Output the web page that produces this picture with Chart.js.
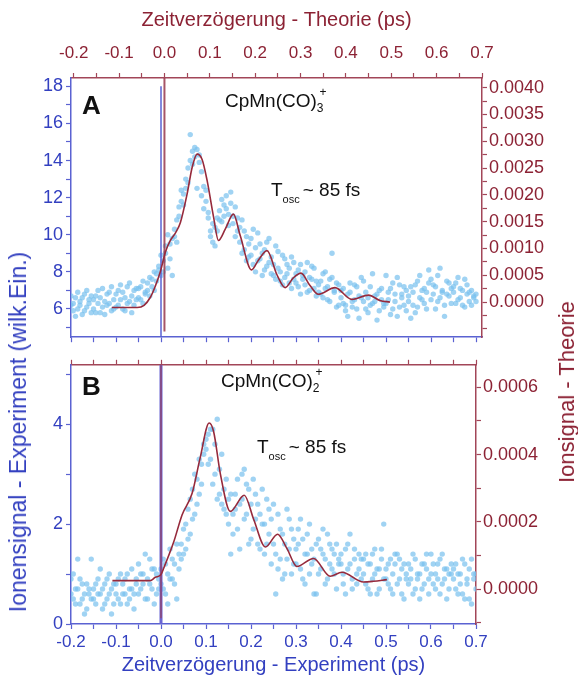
<!DOCTYPE html>
<html>
<head>
<meta charset="utf-8">
<script src="https://cdn.jsdelivr.net/npm/chart.js"></script>
<style>
  html, body { margin: 0; padding: 0; background: #fff; }
  #wrap { position: relative; width: 578px; height: 681px; overflow: hidden; font-family: "Liberation Sans", Arial, sans-serif; }
  canvas { position: absolute; left: 0; }
  .note { position: absolute; white-space: nowrap; font-size: 19px; line-height: 19px; color: #111; }
  .panel { position: absolute; font-size: 26px; line-height: 26px; font-weight: bold; color: #111; }
  .note sub { font-size: 12px; vertical-align: -5px; line-height: 0; }
  .note sup { font-size: 12px; vertical-align: 11px; line-height: 0; margin-left: -4px; }
  .note .osc { font-size: 11px; vertical-align: -7px; line-height: 0; margin-right: 3px; }
  .side { position: absolute; white-space: nowrap; line-height: 22px; transform: translate(-50%, -50%) rotate(-90deg); }
</style>
</head>
<body>
<div id="wrap">
  <canvas id="chartA" width="578" height="351" style="top:0"></canvas>
  <canvas id="chartB" width="578" height="330" style="top:351px"></canvas>

  <div class="panel" style="left:82px; top:92px">A</div>
  <div class="note" style="left:225px; top:91px">CpMn(CO)<sub>3</sub><sup>+</sup></div>
  <div class="note" style="left:271px; top:180px">T<span class="osc">osc</span>~ 85 fs</div>

  <div class="panel" style="left:82px; top:373px">B</div>
  <div class="note" style="left:221px; top:371px">CpMn(CO)<sub>2</sub><sup>+</sup></div>
  <div class="note" style="left:257px; top:437px">T<span class="osc">osc</span>~ 85 fs</div>

  <div class="side" style="left:18px; top:432px; font-size:23px; color:#3340c0">Ionensignal - Experiment (wilk.Ein.)</div>
  <div class="side" style="left:567px; top:392px; font-size:22px; color:#8c2234">Ionsignal - Theorie</div>
</div>
<script>
// experimental delay grid (ps), two scans per delay
const expTime = [
  -0.200,-0.195,-0.190,-0.185,-0.180,-0.175,-0.170,-0.165,-0.160,-0.155,
  -0.150,-0.145,-0.140,-0.135,-0.130,-0.125,-0.120,-0.115,-0.110,-0.105,
  -0.100,-0.095,-0.090,-0.085,-0.080,-0.075,-0.070,-0.065,-0.060,-0.055,
  -0.050,-0.045,-0.040,-0.035,-0.030,-0.025,-0.020,-0.015,-0.010,-0.005,
   0.000, 0.005, 0.010, 0.015, 0.020, 0.025, 0.030, 0.035, 0.040, 0.045,
   0.050, 0.055, 0.060, 0.065, 0.070, 0.075, 0.080, 0.085, 0.090, 0.095,
   0.100, 0.105, 0.110, 0.115, 0.120, 0.125, 0.130, 0.135, 0.140, 0.145,
   0.150, 0.155, 0.160, 0.165, 0.170, 0.175, 0.180, 0.185, 0.190, 0.195,
   0.200, 0.205, 0.210, 0.215, 0.220, 0.225, 0.230, 0.235, 0.240, 0.245,
   0.250, 0.255, 0.260, 0.265, 0.270, 0.275, 0.280, 0.285, 0.290, 0.295,
   0.300, 0.305, 0.310, 0.315, 0.320, 0.325, 0.330, 0.335, 0.340, 0.345,
   0.350, 0.355, 0.360, 0.365, 0.370, 0.375, 0.380, 0.385, 0.390, 0.395,
   0.400, 0.405, 0.410, 0.415, 0.420, 0.425, 0.430, 0.435, 0.440, 0.445,
   0.450, 0.455, 0.460, 0.465, 0.470, 0.475, 0.480, 0.485, 0.490, 0.495,
   0.500, 0.505, 0.510, 0.515, 0.520, 0.525, 0.530, 0.535, 0.540, 0.545,
   0.550, 0.555, 0.560, 0.565, 0.570, 0.575, 0.580, 0.585, 0.590, 0.595,
   0.600, 0.605, 0.610, 0.615, 0.620, 0.625, 0.630, 0.635, 0.640, 0.645,
   0.650, 0.655, 0.660, 0.665, 0.670, 0.675, 0.680, 0.685, 0.690, 0.695,
   0.700
];

// CpMn(CO)3+ experiment (arb. units)
const expA1 = [
  6.2, 5.9, 6.6, 6.0, 6.4, 5.7, 6.8, 6.1, 6.5, 5.8,
  6.0, 6.7, 6.3, 5.8, 7.1, 6.4, 6.2, 6.9, 5.9, 6.5,
  6.8, 6.2, 7.3, 6.0, 6.6, 7.2, 6.4, 5.8, 7.0, 6.5,
  6.6, 7.2, 6.3, 6.9, 7.4, 6.7, 7.6, 7.0, 7.9, 8.1,
  7.8, 8.6, 9.0, 8.2, 9.5, 9.8, 10.3, 9.6, 11.0, 11.8,
  12.2, 13.0, 12.8, 15.4, 14.5, 14.2, 14.6, 13.9, 13.4, 12.6,
  11.8, 10.9, 10.2, 9.6, 10.4, 10.9, 11.3, 10.7, 11.6, 12.1,
  11.1, 12.3, 10.6, 11.5, 10.2, 9.6, 10.8, 9.2, 9.9, 8.8,
  9.8, 8.4, 9.3, 10.1, 8.7, 9.0, 8.1, 9.6, 8.5, 7.9,
  8.4, 7.6, 9.1, 8.0, 7.3, 8.7, 7.9, 8.2, 7.1, 8.5,
  7.9, 7.2, 8.4, 7.6, 8.0, 6.9, 7.7, 8.3, 7.1, 7.5,
  7.3, 6.8, 7.9, 7.1, 6.5, 7.6, 9.0, 6.9, 7.4, 6.2,
  6.6, 7.1, 6.2, 5.6, 6.9, 6.4, 7.3, 6.0, 6.7, 7.7,
  6.4, 6.9, 5.8, 7.2, 6.3, 6.7, 5.4, 7.0, 6.5, 6.1,
  7.8, 6.5, 7.1, 6.0, 6.8, 5.6, 7.3, 6.6, 6.2, 7.0,
  6.7, 7.2, 6.2, 5.8, 7.5, 6.6, 7.0, 6.3, 6.9, 8.1,
  7.6, 6.8, 7.2, 6.4, 8.2, 6.9, 6.2, 7.5, 6.7, 7.1,
  6.9, 7.4, 6.5, 7.1, 6.2, 7.6, 6.8, 6.4, 7.0, 6.6,
  6.8
];
const expA2 = [
  6.7, 6.3, 5.6, 6.9, 6.2, 6.6, 5.9, 7.0, 6.3, 6.7,
  6.5, 5.8, 7.0, 6.6, 6.1, 5.7, 6.8, 6.3, 7.2, 6.0,
  6.1, 7.0, 6.5, 6.9, 5.9, 6.3, 7.4, 6.7, 6.2, 7.1,
  7.1, 6.5, 7.5, 6.8, 7.0, 7.7, 7.2, 8.0, 7.5, 8.3,
  8.9, 8.0, 9.4, 10.0, 8.7, 7.8, 9.9, 10.8, 11.5, 12.4,
  11.6, 12.5, 13.6, 14.0, 13.8, 14.7, 12.5, 14.3, 12.1, 11.4,
  12.4, 11.2, 9.9, 10.6, 9.4, 10.2, 10.8, 11.9, 11.0, 11.4,
  10.5, 11.7, 11.0, 9.9, 10.9, 10.4, 9.0, 10.2, 8.6, 9.5,
  8.9, 10.3, 8.0, 8.6, 9.5, 7.8, 9.2, 8.3, 9.8, 8.8,
  7.8, 9.4, 8.2, 7.5, 8.9, 7.7, 8.4, 7.4, 8.8, 7.6,
  7.4, 8.1, 6.8, 7.8, 7.3, 8.5, 7.0, 7.6, 8.2, 6.7,
  6.9, 7.5, 6.6, 8.0, 7.2, 6.4, 7.7, 7.0, 6.1, 7.3,
  7.0, 6.3, 5.9, 6.8, 7.4, 6.1, 6.5, 7.2, 5.5, 6.6,
  7.5, 6.0, 6.6, 6.2, 7.9, 6.4, 6.8, 5.9, 7.1, 6.3,
  6.3, 6.9, 5.7, 7.4, 6.4, 7.7, 6.1, 6.8, 7.2, 5.9,
  6.4, 5.5, 6.9, 7.3, 6.1, 7.8, 6.5, 7.1, 6.0, 7.4,
  6.5, 7.3, 6.0, 7.8, 6.6, 7.0, 5.6, 6.8, 7.4, 6.3,
  7.2, 6.3, 7.7, 6.6, 7.0, 6.1, 7.3, 6.9, 6.2, 6.7,
  6.4
];

// CpMn(CO)2+ experiment (arb. units)
const expB1 = [
  0.9, 0.5, 0.7, 1.3, 0.4, 0.8, 0.6, 0.3, 0.7, 0.5,
  0.7, 0.4, 0.9, 0.6, 0.3, 0.8, 0.5, 1.0, 0.7, 0.4,
  0.8, 0.5, 1.0, 0.6, 0.9, 0.4, 0.7, 1.1, 0.6, 0.9,
  1.2, 0.7, 1.0, 0.5, 0.9, 1.3, 0.7, 1.1, 0.6, 0.9,
  0.8, 1.3, 0.6, 1.0, 1.5, 0.9, 1.2, 0.5, 1.4, 1.6,
  1.9, 1.5, 2.3, 1.8, 2.7, 2.2, 2.9, 2.6, 3.2, 3.4,
  3.5, 3.8, 3.3, 3.9, 3.0, 4.1, 2.6, 3.4, 2.3, 2.9,
  2.5, 1.4, 2.2, 2.6, 1.9, 2.4, 3.0, 2.1, 2.8, 1.6,
  2.4, 1.9, 2.6, 1.6, 2.2, 2.0, 1.4, 2.5, 1.8, 2.1,
  1.6, 0.6, 2.2, 1.3, 1.8, 1.0, 2.3, 1.5, 1.9, 1.2,
  1.5, 1.9, 1.1, 1.7, 0.8, 1.4, 2.0, 1.2, 0.6, 1.6,
  1.7, 1.1, 1.4, 0.8, 1.8, 1.2, 1.5, 1.0, 1.6, 1.3,
  1.2, 0.8, 1.5, 1.1, 1.8, 0.7, 1.3, 1.0, 1.4, 0.9,
  1.0, 1.4, 0.7, 1.2, 0.9, 1.5, 0.6, 1.1, 1.3, 2.0,
  1.1, 0.8, 1.3, 0.6, 1.2, 1.4, 0.9, 1.1, 0.5, 1.0,
  1.2, 0.9, 1.4, 0.7, 1.0, 0.5, 1.2, 0.8, 1.1, 0.6,
  1.4, 0.8, 1.0, 1.2, 0.6, 1.4, 0.9, 1.1, 0.7, 1.0,
  0.9, 1.2, 0.6, 1.0, 1.3, 0.5, 0.8, 1.1, 0.4, 0.9,
  0.7
];
const expB2 = [
  0.6, 1.0, 0.4, 0.7, 0.9, 0.5, 0.2, 0.8, 0.6, 1.3,
  0.5, 0.8, 0.6, 1.1, 0.7, 0.4, 0.9, 0.6, 0.2, 0.8,
  0.6, 0.9, 0.4, 0.8, 0.6, 1.0, 0.5, 0.7, 0.3, 0.8,
  0.6, 1.0, 0.8, 1.4, 0.5, 0.8, 1.1, 0.4, 1.0, 0.7,
  1.1, 0.7, 1.2, 0.4, 0.9, 1.3, 0.8, 1.6, 1.1, 1.3,
  1.4, 2.0, 1.7, 2.5, 2.1, 3.0, 2.4, 3.3, 2.8, 3.6,
  3.7, 3.2, 3.9, 2.8, 3.6, 2.5, 3.1, 2.4, 2.7, 2.2,
  2.0, 2.6, 1.8, 2.3, 2.9, 1.5, 2.5, 3.1, 2.2, 2.7,
  1.7, 2.9, 2.1, 2.4, 1.5, 2.7, 2.0, 1.6, 2.3, 1.2,
  2.4, 1.4, 1.1, 1.9, 0.9, 1.6, 1.3, 2.1, 1.0, 1.7,
  1.2, 1.6, 2.1, 0.9, 1.4, 1.8, 1.0, 1.5, 1.3, 0.6,
  1.0, 1.5, 1.9, 1.3, 0.9, 1.6, 1.1, 1.4, 0.7, 1.2,
  1.4, 1.0, 0.6, 1.6, 1.2, 0.9, 1.5, 0.8, 1.1, 1.3,
  1.3, 0.8, 1.2, 0.6, 1.4, 1.0, 1.1, 0.7, 1.5, 0.9,
  0.9, 1.2, 0.7, 1.0, 1.4, 0.8, 1.3, 0.6, 1.2, 0.9,
  0.8, 1.1, 0.6, 1.3, 0.9, 1.0, 0.7, 1.2, 1.4, 0.9,
  1.0, 1.2, 0.7, 0.9, 1.3, 0.8, 1.1, 0.5, 1.0, 1.2,
  1.1, 0.7, 1.0, 0.8, 0.6, 1.2, 0.9, 0.5, 1.3, 1.0,
  1.0
];

// theory curves (time in ps, signal)
const theoTimeA = [-0.116, -0.09, -0.06, -0.045, -0.031, -0.02, -0.009, 0.002, 0.013, 0.025,
  0.035, 0.05, 0.061, 0.072, 0.083, 0.094, 0.108, 0.119, 0.134, 0.152, 0.167, 0.192, 0.207,
  0.226, 0.248, 0.266, 0.284, 0.301, 0.32, 0.339, 0.376, 0.413, 0.45, 0.475, 0.497];
const theoSignalA = [-0.0001, -0.0001, -0.0001, -0.00006, 0.00009, 0.0003, 0.00057, 0.00093, 0.00115, 0.0013,
  0.00148, 0.00202, 0.00251, 0.00276, 0.00266, 0.00227, 0.0016, 0.00115, 0.00136, 0.00164, 0.00124, 0.0006, 0.00078,
  0.00096, 0.00051, 0.00027, 0.00045, 0.00054, 0.00032, 0.000145, 0.00027, 0.00005, 0.00013, 0.00003, 0.0];

const theoTimeB = [-0.108, -0.07, -0.024, -0.0127, 0, 0.006, 0.028, 0.047, 0.069, 0.087, 0.107, 0.117,
  0.132, 0.154, 0.185, 0.206, 0.232, 0.259, 0.28, 0.302, 0.339, 0.376, 0.402, 0.45, 0.472, 0.502];
const theoSignalB = [0.000025, 0.000025, 0.000025, 0.000035, 0.000043, 0.000062, 0.000139, 0.000221, 0.000284,
  0.00039, 0.000494, 0.000468, 0.000342, 0.000231, 0.000279, 0.000207, 0.000125, 0.000163, 0.00012, 0.000067,
  0.000091, 0.000038, 0.00005, 0.000021, 0.000023, 0.000028];

// time zero markers
const timeZero = 0;

const BLUE = '#3340c0';
const BLUE_AXIS = '#5a62d2';
const RED = '#8c2234';
const RED_AXIS = '#a24658';
const DOT = 'rgba(120,192,238,0.7)';
const FONT = '"Liberation Sans", Arial, sans-serif';

function pts(xs, ys) {
  return xs.map((x, i) => ({ x: x, y: ys[i] }));
}

function timeLabel(v) {
  const r = Math.round(v * 20);
  if (r % 2 !== 0) return '';
  if (r === 0) return '0.0';
  return (r / 20).toFixed(1);
}

function theoLabel(v, major) {
  if (v < -1e-9) return '';
  const r = Math.round(v / major * 2);
  if (r % 2 !== 0) return '';
  return (Math.abs(v) < 1e-9 ? 0 : v).toFixed(4);
}

function axis(opts) {
  return {
    type: 'linear',
    position: opts.position,
    min: opts.min,
    max: opts.max,
    border: { display: true, color: opts.axisColor, width: 1.5 },
    grid: { drawOnChartArea: false, drawTicks: true, tickLength: 5, color: opts.axisColor, tickWidth: 1.2 },
    ticks: {
      stepSize: opts.step,
      includeBounds: false,
      autoSkip: false,
      maxRotation: 0,
      padding: opts.padding || 3,
      color: opts.textColor,
      font: { family: FONT, size: opts.fontSize || 17 },
      callback: opts.label || (() => '')
    },
    title: opts.title ? {
      display: true, text: opts.title, color: opts.textColor,
      font: { family: FONT, size: 20 }, padding: opts.titlePadding
    } : { display: false },
    afterFit: s => {
      if (opts.height !== undefined) s.height = opts.height;
      if (opts.width !== undefined) s.width = opts.width;
    }
  };
}

function scatterSet(ys) {
  return {
    type: 'scatter', data: pts(expTime, ys), xAxisID: 'xExp', yAxisID: 'yExp',
    backgroundColor: DOT, pointRadius: 2.7, pointBorderWidth: 0, order: 3
  };
}

function curveSet(xs, ys) {
  return {
    type: 'line', data: pts(xs, ys), xAxisID: 'xTheo', yAxisID: 'yTheo',
    borderColor: '#962a3c', borderWidth: 1.6, pointRadius: 0, fill: false,
    cubicInterpolationMode: 'monotone', order: 0
  };
}

function markerSet(xAxis, yAxis, y0, y1, color, width) {
  return {
    type: 'line', data: [{ x: timeZero, y: y0 }, { x: timeZero, y: y1 }], xAxisID: xAxis, yAxisID: yAxis,
    borderColor: color, borderWidth: width, pointRadius: 0, fill: false, order: 1
  };
}

const common = {
  responsive: false,
  animation: false,
  events: [],
  layout: { padding: 0 },
  plugins: { legend: { display: false }, tooltip: { enabled: false } }
};

// panel A ranges
const aLeft = [4.477, 18.45];
const aRight = [-0.000655, 0.00418];

new Chart(document.getElementById('chartA'), {
  type: 'scatter',
  data: {
    datasets: [
      curveSet(theoTimeA, theoSignalA),
      markerSet('xTheo', 'yTheo', -0.00055, aRight[1], 'rgba(150,55,75,0.85)', 2),
      markerSet('xExp', 'yExp', aLeft[0], 18, BLUE_AXIS, 1.5),
      scatterSet(expA1),
      scatterSet(expA2)
    ]
  },
  options: Object.assign({}, common, {
    scales: {
      xTheo: axis({ position: 'top', min: -0.206, max: 0.7, step: 0.05, axisColor: RED_AXIS, textColor: RED,
        label: timeLabel, padding: 9, title: 'Zeitverzögerung - Theorie (ps)', titlePadding: { top: 8, bottom: 0 }, height: 78 }),
      xExp: axis({ position: 'bottom', min: -0.2, max: 0.7133, step: 0.05, axisColor: BLUE_AXIS, textColor: BLUE, height: 7 }),
      yExp: axis({ position: 'left', min: aLeft[0], max: aLeft[1], step: 1, axisColor: BLUE_AXIS, textColor: BLUE,
        label: v => (Math.round(v) % 2 === 0 ? String(Math.round(v)) : ''), width: 71, fontSize: 18 }),
      yTheo: axis({ position: 'right', min: aRight[0], max: aRight[1], step: 0.00025, axisColor: RED_AXIS, textColor: RED,
        label: v => theoLabel(v, 0.0005), padding: 2, width: 96, fontSize: 18 })
    }
  })
});

// panel B ranges
const bLeft = [0, 5.19];
const bRight = [-0.000104, 0.000667];

new Chart(document.getElementById('chartB'), {
  type: 'scatter',
  data: {
    datasets: [
      curveSet(theoTimeB, theoSignalB),
      markerSet('xTheo', 'yTheo', -0.000087, bRight[1], 'rgba(150,60,90,0.6)', 2),
      markerSet('xExp', 'yExp', 0, bLeft[1], '#6a66d4', 3),
      scatterSet(expB1),
      scatterSet(expB2)
    ]
  },
  options: Object.assign({}, common, {
    scales: {
      xTheo: axis({ position: 'top', min: -0.2, max: 0.7, step: 0.05, axisColor: RED_AXIS, textColor: RED, height: 7 }),
      xExp: axis({ position: 'bottom', min: -0.2, max: 0.7, step: 0.05, axisColor: BLUE_AXIS, textColor: BLUE,
        label: timeLabel, padding: 3, title: 'Zeitverzögerung - Experiment (ps)', titlePadding: { top: 0, bottom: 4 }, height: 57 }),
      yExp: axis({ position: 'left', min: bLeft[0], max: bLeft[1], step: 1, axisColor: BLUE_AXIS, textColor: BLUE,
        label: v => (Math.round(v) % 2 === 0 ? String(Math.round(v)) : ''), width: 71, fontSize: 18 }),
      yTheo: axis({ position: 'right', min: bRight[0], max: bRight[1], step: 0.0001, axisColor: RED_AXIS, textColor: RED,
        label: v => theoLabel(v, 0.0002), padding: 2, width: 102, fontSize: 18 })
    }
  })
});
</script>
</body>
</html>
